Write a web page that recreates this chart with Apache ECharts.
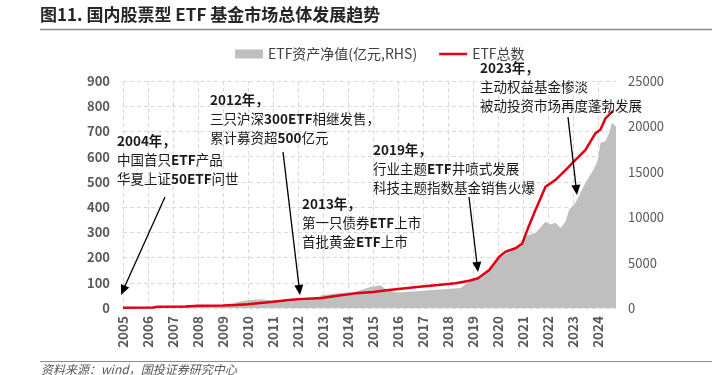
<!DOCTYPE html>
<html><head><meta charset="utf-8">
<script src="https://cdn.jsdelivr.net/npm/echarts@6/dist/echarts.min.js"></script>
<style>html,body{margin:0;padding:0;background:#fff}#c{width:719px;height:375px}</style>
</head><body><div id="c"></div><script>
const FONT = '"Noto Sans CJK SC", "Noto Sans", sans-serif';

// ETF count (left axis): [decimal year, count]
const countData = [
  [2005.0,1],[2006.2,2],[2006.4,5],[2007.5,6],[2008.0,9],[2009.0,10],[2009.5,12],[2010.0,15],
  [2010.5,20],[2011.0,25],[2011.64,32],[2012.0,35],[2012.96,40],[2013.5,48],[2014.3,58],
  [2015.0,63],[2015.64,71],[2016.3,78],[2016.96,85],[2017.6,91],[2018.3,98],[2018.85,108],
  [2019.2,118],[2019.65,151],[2020.05,203],[2020.3,223],[2020.7,237],[2020.97,256],
  [2021.17,309],[2021.5,389],[2021.9,481],[2022.3,508],[2022.7,547],[2023.1,587],
  [2023.5,627],[2023.9,693],[2024.1,708],[2024.3,752],[2024.6,782]
];
// ETF net asset value (right axis, 亿元): [decimal year, value]
const aumData = [
  [2005.0,50],[2006.0,100],[2006.8,150],[2007.5,250],[2008.0,350],[2008.6,300],[2009.0,250],
  [2009.4,550],[2010.0,850],[2010.5,950],[2010.9,850],[2011.6,700],[2012.0,800],[2012.5,900],
  [2012.96,1400],[2013.5,1600],[2014.3,1800],[2014.9,2300],[2015.3,2500],[2015.6,1900],
  [2016.0,1700],[2016.5,1800],[2017.0,1900],[2017.5,2000],[2018.0,2100],[2018.5,2200],
  [2018.85,2900],[2019.25,3300],[2019.65,4200],[2020.05,5500],[2020.45,6100],[2020.85,6800],
  [2021.1,7900],[2021.5,8300],[2021.7,8900],[2021.9,9500],[2022.1,9200],[2022.3,9400],
  [2022.5,8800],[2022.7,9500],[2022.84,10800],[2023.1,11600],[2023.5,13800],[2023.75,14900],
  [2023.95,16000],[2024.0,16500],[2024.1,18200],[2024.3,18400],[2024.45,19300],[2024.55,20400],
  [2024.62,20200],[2024.72,20000]
];
const xMin = 2005, xMax = 2024.72;

// annotation arrows in data coords (year, count): [fromYear, fromCount, toYear, toCount]
const arrows = [
  [2006.68,440,2004.92,52],
  [2011.4,619,2012.08,52],
  [2018.84,440,2019.2,143],
  [2022.8,757,2023.16,448]
];
// annotation texts: [x, y, lines]
const notes = [
  [117,141,['{b|2004年，}','中国首只{b|ETF}产品','华夏上证{b|50ETF}问世']],
  [210,100,['{b|2012年，}','三只沪深{b|300ETF}相继发售，','累计募资超{b|500}亿元']],
  [302,204,['{b|2013年，}','第一只债券{b|ETF}上市','首批黄金{b|ETF}上市']],
  [373,150,['{b|2019年，}','行业主题{b|ETF}井喷式发展','科技主题指数基金销售火爆']],
  [480,68,['{b|2023年，}','主动权益基金惨淡','被动投资市场再度蓬勃发展']]
];

const chart = echarts.init(document.getElementById('c'), null, {renderer:'canvas'});
const dashed = {show:true, lineStyle:{color:'#d9d9d9', type:[4,3], width:1}};
chart.setOption({
  animation:false,
  backgroundColor:'#fff',
  textStyle:{fontFamily:FONT},
  grid:{left:123, right:103, top:81, bottom:67, containLabel:false},
  legend:{
    left:230, top:42, itemWidth:28, itemHeight:9, itemGap:22,
    textStyle:{fontFamily:FONT, fontSize:14, color:'#404040'},
    data:[{name:'ETF资产净值(亿元,RHS)', icon:'rect'},
          {name:'ETF总数', icon:'path://M0,3.2h28v2.6h-28z M0,0h0.01v9h-0.01z'}]
  },
  xAxis:{
    type:'value', min:xMin, max:xMax, interval:1,
    axisLine:{show:false}, axisTick:{show:false},
    splitLine:Object.assign({showMaxLine:false}, dashed),
    axisLabel:{rotate:90, margin:8, showMaxLabel:false, fontFamily:FONT, fontSize:13.5,
      fontWeight:'bold', color:'#595959',
      formatter:v=>Math.abs(v-Math.round(v))<1e-6 ? String(Math.round(v)) : ''}
  },
  yAxis:[
    {type:'value', min:0, max:900, interval:100, position:'left',
     axisLine:{show:false}, axisTick:{show:false}, splitLine:dashed,
     axisLabel:{margin:13, fontFamily:FONT, fontSize:13, fontWeight:'bold', color:'#595959',
       formatter:v=>String(v)}},
    {type:'value', min:0, max:25000, interval:5000, position:'right',
     axisLine:{show:false}, axisTick:{show:false}, splitLine:{show:false},
     axisLabel:{margin:12, fontFamily:FONT, fontSize:13, color:'#595959',
       formatter:v=>String(v)}}
  ],
  series:[
    {name:'ETF资产净值(亿元,RHS)', type:'line', yAxisIndex:1, data:aumData,
     showSymbol:false, symbol:'none', lineStyle:{width:0, color:'#bfbfbf'},
     itemStyle:{color:'#bfbfbf'}, areaStyle:{color:'#bfbfbf', opacity:1}, z:2},
    {name:'ETF总数', type:'line', yAxisIndex:0, data:countData,
     showSymbol:false, symbol:'none', lineStyle:{width:2.5, color:'#e00012'},
     itemStyle:{color:'#e00012'}, z:3}
  ]
});

const g = [];
// title and rules
g.push({type:'text', left:40, top:6, style:{text:'图11. 国内股票型 ETF 基金市场总体发展趋势',
  font:'bold 17px '+FONT, fill:'#262626'}});
g.push({type:'line', shape:{x1:40,y1:29.5,x2:712,y2:29.5}, style:{stroke:'#8c8c8c', lineWidth:1.5}});
g.push({type:'line', shape:{x1:40,y1:361.5,x2:712,y2:361.5}, style:{stroke:'#8c8c8c', lineWidth:1}});
g.push({type:'text', left:41, top:363, style:{text:'资料来源：wind，国投证券研究中心',
  font:'italic 12px '+FONT, fill:'#595959'}});
// annotation texts
notes.forEach(n=>{
  n[2].forEach((line,i)=>{
    g.push({type:'text', x:n[0], y:n[1]+i*19, z:20, style:{text:line, font:'13.5px '+FONT,
      fill:'#1a1a1a', verticalAlign:'middle', align:'left',
      rich:{b:{font:'bold 13.5px '+FONT, fill:'#1a1a1a'}}}});
  });
});
// arrows
arrows.forEach(a=>{
  const p1 = chart.convertToPixel({xAxisIndex:0, yAxisIndex:0}, [a[0],a[1]]);
  const p2 = chart.convertToPixel({xAxisIndex:0, yAxisIndex:0}, [a[2],a[3]]);
  const dx = p2[0]-p1[0], dy = p2[1]-p1[1], len = Math.hypot(dx,dy);
  const ux = dx/len, uy = dy/len, nx = -uy, ny = ux, L = 10, W = 4.5;
  const bx = p2[0]-ux*L, by = p2[1]-uy*L;
  g.push({type:'line', z:20, shape:{x1:p1[0],y1:p1[1],x2:bx+ux*2,y2:by+uy*2},
    style:{stroke:'#000', lineWidth:1.3}});
  g.push({type:'polygon', z:20, shape:{points:[[p2[0],p2[1]],[bx+nx*W,by+ny*W],[bx-nx*W,by-ny*W]]},
    style:{fill:'#000'}});
});
chart.setOption({graphic:g});
</script></body></html>
